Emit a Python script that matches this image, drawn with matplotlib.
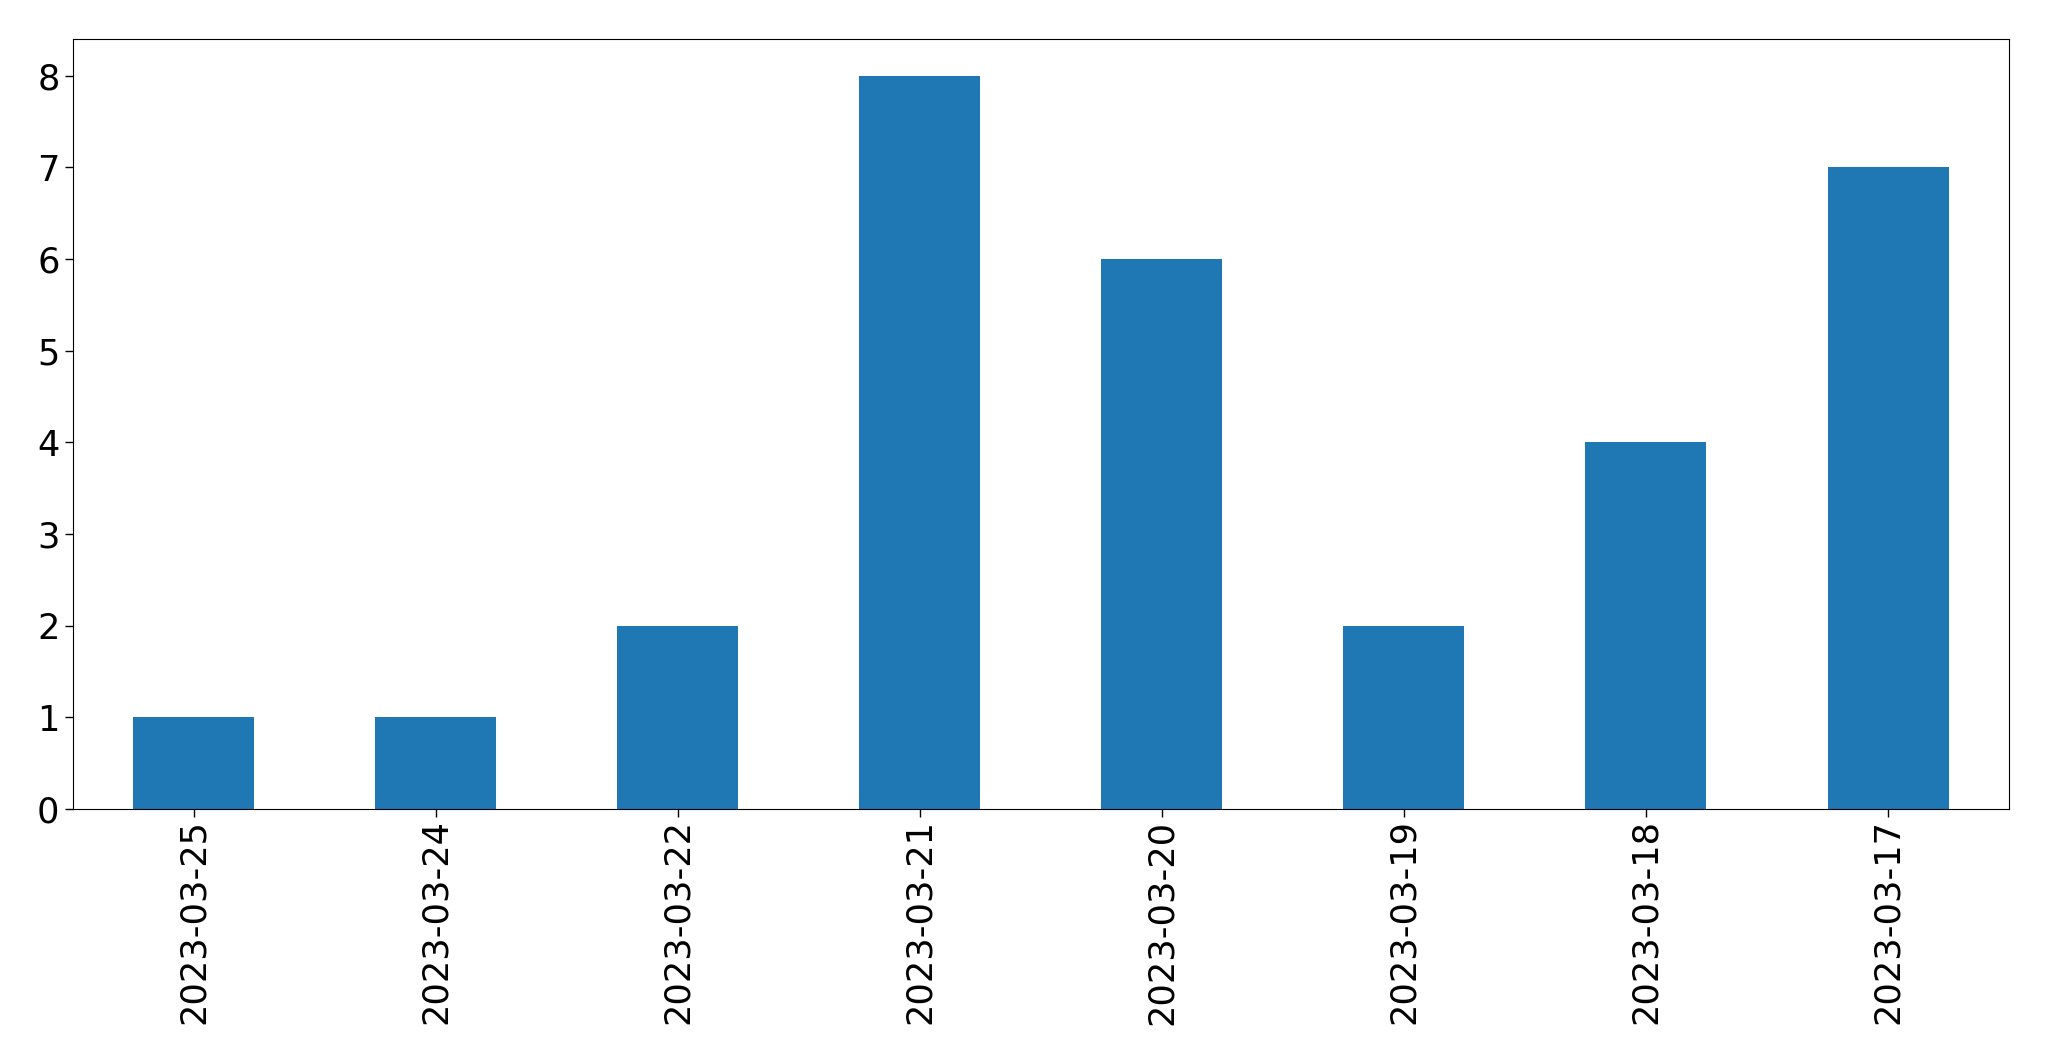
import matplotlib
matplotlib.use("Agg")
import matplotlib.pyplot as plt

dates = ["2023-03-25", "2023-03-24", "2023-03-22", "2023-03-21",
         "2023-03-20", "2023-03-19", "2023-03-18", "2023-03-17"]
counts = [1, 1, 2, 8, 6, 2, 4, 7]

fig = plt.figure(figsize=(20.49, 10.61), dpi=100)
ax = fig.add_axes([0.0355, 0.2375, 0.945, 0.7257])
x = list(range(len(dates)))
ax.bar(x, counts, width=0.5, color="#1f77b4")
ax.set_xlim(-0.5, len(dates) - 0.5)
ax.set_ylim(0, 8.4)
ax.set_xticks(x)
ax.set_xticklabels(dates, rotation=90)
ax.tick_params(labelsize=25.3, length=6, width=1)
ax.tick_params(axis="x", pad=1.5)
fig.savefig("out.png", dpi=100)
